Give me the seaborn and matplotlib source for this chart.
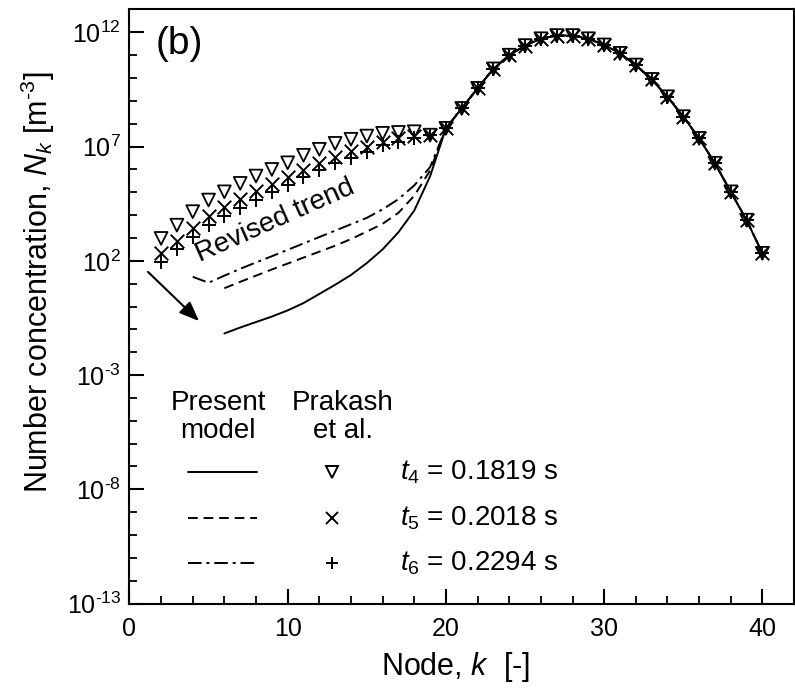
"""
Number concentration vs node: present model against Prakash et al.
"""

import numpy as np
import pandas as pd
import matplotlib.pyplot as plt
from matplotlib.ticker import FixedLocator, MultipleLocator, NullFormatter
import seaborn as sns

# ─── Data (log10 of N_k) ──────────────────────────────────────────────────────
# Prakash et al. markers, nodes 2..19 (they collapse onto one curve from node 20)
nodes_prakash = list(range(2, 20))
log_t4_prakash = [2.98, 3.56, 4.15, 4.66, 5.02, 5.39, 5.71, 6.00, 6.29, 6.62,
                  6.88, 7.14, 7.32, 7.46, 7.58, 7.62, 7.65, 7.50]
log_t5_prakash = [2.34, 2.88, 3.45, 3.95, 4.35, 4.72, 5.05, 5.36, 5.66, 5.97,
                  6.30, 6.56, 6.80, 7.00, 7.20, 7.36, 7.46, 7.50]
log_t6_prakash = [1.96, 2.52, 3.05, 3.55, 3.95, 4.33, 4.68, 5.00, 5.32, 5.66,
                  5.97, 6.27, 6.50, 6.77, 7.05, 7.21, 7.36, 7.50]

# shared part of all curves, nodes 20..40
nodes_tail = list(range(20, 41))
log_tail = [7.80, 8.67, 9.55, 10.40, 11.00, 11.42, 11.72, 11.86, 11.86, 11.72,
            11.45, 11.08, 10.57, 9.94, 9.18, 8.31, 7.36, 6.27, 5.02, 3.78, 2.33]

# present model lines before they merge
nodes_t4_model = list(range(6, 20))
log_t4_model = [-1.18, -0.92, -0.68, -0.44, -0.17, 0.15, 0.55, 0.95, 1.38,
                1.90, 2.50, 3.25, 4.20, 5.70]
nodes_t5_model = list(range(6, 20))
log_t5_model = [0.80, 1.08, 1.35, 1.62, 1.88, 2.14, 2.40, 2.66, 2.95, 3.28,
                3.62, 4.10, 4.85, 5.95]
nodes_t6_model = list(range(4, 20))
log_t6_model = [1.30, 1.04, 1.35, 1.65, 1.93, 2.20, 2.48, 2.76, 3.04, 3.32,
                3.60, 3.88, 4.25, 4.70, 5.30, 6.10]

series = ["t4", "t5", "t6"]
time_labels = ["$t_4$ = 0.1819 s", "$t_5$ = 0.2018 s", "$t_6$ = 0.2294 s"]
y_exponents = [-13, -8, -3, 2, 7, 12]

# ─── Style ─────────────────────────────────────────────────────────────────────
sns.set_theme(style="ticks")
plt.rcParams.update({
    "font.family": ["Liberation Sans", "DejaVu Sans"],
    "mathtext.fontset": "custom",
    "mathtext.rm": "Liberation Sans",
    "mathtext.it": "Liberation Sans:italic",
    "axes.edgecolor": "black",
    "xtick.color": "black",
    "ytick.color": "black",
    "text.color": "black",
    "axes.labelcolor": "black",
})
FS_TICK = 18
FS_LABEL = 22
FS_TEXT = 20
HY = "\u2010"  # short hyphen used in the superscripts
DASHES = {"t4": "", "t5": (5, 3), "t6": (7, 2.5, 1.5, 2.5)}
MARKERS = {"t4": "v", "t5": "x", "t6": "+"}

# ─── Long-form frames ─────────────────────────────────────────────────────────
model_parts = []
for s, nd, lv in zip(series,
                     [nodes_t4_model, nodes_t5_model, nodes_t6_model],
                     [log_t4_model, log_t5_model, log_t6_model]):
    model_parts.append(pd.DataFrame({"node": nd + nodes_tail,
                                     "N": 10.0 ** np.array(lv + log_tail),
                                     "series": s}))
model_df = pd.concat(model_parts, ignore_index=True)

prakash_parts = []
for s, lv in zip(series, [log_t4_prakash, log_t5_prakash, log_t6_prakash]):
    prakash_parts.append(pd.DataFrame({"node": nodes_prakash + nodes_tail,
                                       "N": 10.0 ** np.array(lv + log_tail),
                                       "series": s}))
prakash_df = pd.concat(prakash_parts, ignore_index=True)

# ─── Plot ──────────────────────────────────────────────────────────────────────
fig = plt.figure(figsize=(7.95, 6.88), dpi=100)
ax = fig.add_axes([0.1628, 0.1228, 0.836, 0.8634])

sns.lineplot(data=model_df, x="node", y="N", style="series", dashes=DASHES,
             color="black", lw=1.4, estimator=None, sort=False, legend=False, ax=ax)

for s in series:
    sub = prakash_df[prakash_df["series"] == s]
    if s == "t4":
        sns.scatterplot(data=sub, x="node", y="N", marker="v", s=85,
                        facecolor="none", edgecolor="black", linewidth=1.3,
                        legend=False, ax=ax, zorder=3)
    else:
        sns.scatterplot(data=sub, x="node", y="N", marker=MARKERS[s], s=95,
                        color="black", linewidth=1.4, legend=False, ax=ax, zorder=3)

ax.set_yscale("log")
ax.set_xlim(0, 42)
ax.set_ylim(1e-13, 1e13)
ax.xaxis.set_major_locator(MultipleLocator(10))
ax.xaxis.set_minor_locator(MultipleLocator(2))
ax.yaxis.set_major_locator(FixedLocator([10.0 ** e for e in y_exponents]))
ax.set_yticklabels([f"$10^{{{str(e).replace('-', HY)}}}$" for e in y_exponents])
ax.yaxis.set_minor_locator(FixedLocator([10.0 ** e for e in range(-13, 14)]))
ax.yaxis.set_minor_formatter(NullFormatter())
ax.tick_params(which="major", direction="in", length=11, width=1.5,
               labelsize=FS_TICK, top=False, right=False)
ax.tick_params(axis="x", which="major", pad=10)
ax.tick_params(axis="y", which="major", pad=6)
ax.tick_params(which="minor", direction="in", length=6, width=1.3,
               top=False, right=False)
for sp in ax.spines.values():
    sp.set_linewidth(1.5)


# ─── Annotations (pixel positions converted to axes fraction) ─────────────────
def fx(px):
    return (px - 129.4) / 664.6


def fy(py):
    return (603.5 - py) / 594.0


ax.set_xlabel("Node, $k$  [-]", fontsize=FS_LABEL)
ax.set_ylabel(f"Number concentration, $N_k$ [m$^{{{HY}3}}$]", fontsize=FS_LABEL)
ax.xaxis.set_label_coords(fx(455), fy(667))
ax.yaxis.set_label_coords(fx(38), fy(282))
ax.xaxis.label.set_va("center")
ax.yaxis.label.set_va("center")

ax.text(fx(179), fy(44), "(b)", transform=ax.transAxes, fontsize=28,
        ha="center", va="center")
ax.text(fx(275), fy(221), "Revised trend", transform=ax.transAxes, fontsize=FS_TEXT,
        rotation=24, ha="center", va="center", rotation_mode="anchor")
ax.annotate("", xy=(fx(201), fy(323)), xytext=(fx(146), fy(270)),
            xycoords="axes fraction", textcoords="axes fraction",
            arrowprops=dict(arrowstyle="-|>,head_length=1.0,head_width=0.4",
                            color="black", lw=1.5))

ax.text(fx(218), fy(417), "Present\nmodel", transform=ax.transAxes, fontsize=FS_TEXT,
        ha="center", va="center", linespacing=1.1)
ax.text(fx(343), fy(417), "Prakash\net al.", transform=ax.transAxes, fontsize=FS_TEXT,
        ha="center", va="center", linespacing=1.1)

legend_rows = [472, 518, 563]
for s, lbl, py in zip(series, time_labels, legend_rows):
    ln, = ax.plot([fx(188), fx(257)], [fy(py), fy(py)], transform=ax.transAxes,
                  color="black", lw=1.4, clip_on=False)
    if DASHES[s]:
        ln.set_dashes(DASHES[s])
    if s == "t4":
        ax.plot(fx(332), fy(py), marker="v", ms=8, mfc="none", mec="black",
                mew=1.4, transform=ax.transAxes, clip_on=False)
    else:
        ax.plot(fx(332), fy(py), marker=MARKERS[s], ms=9, color="black",
                mew=1.4, transform=ax.transAxes, clip_on=False)
    ax.text(fx(400), fy(py), lbl, transform=ax.transAxes, fontsize=FS_TEXT,
            ha="left", va="center")

fig.savefig("out.png", dpi=100)
